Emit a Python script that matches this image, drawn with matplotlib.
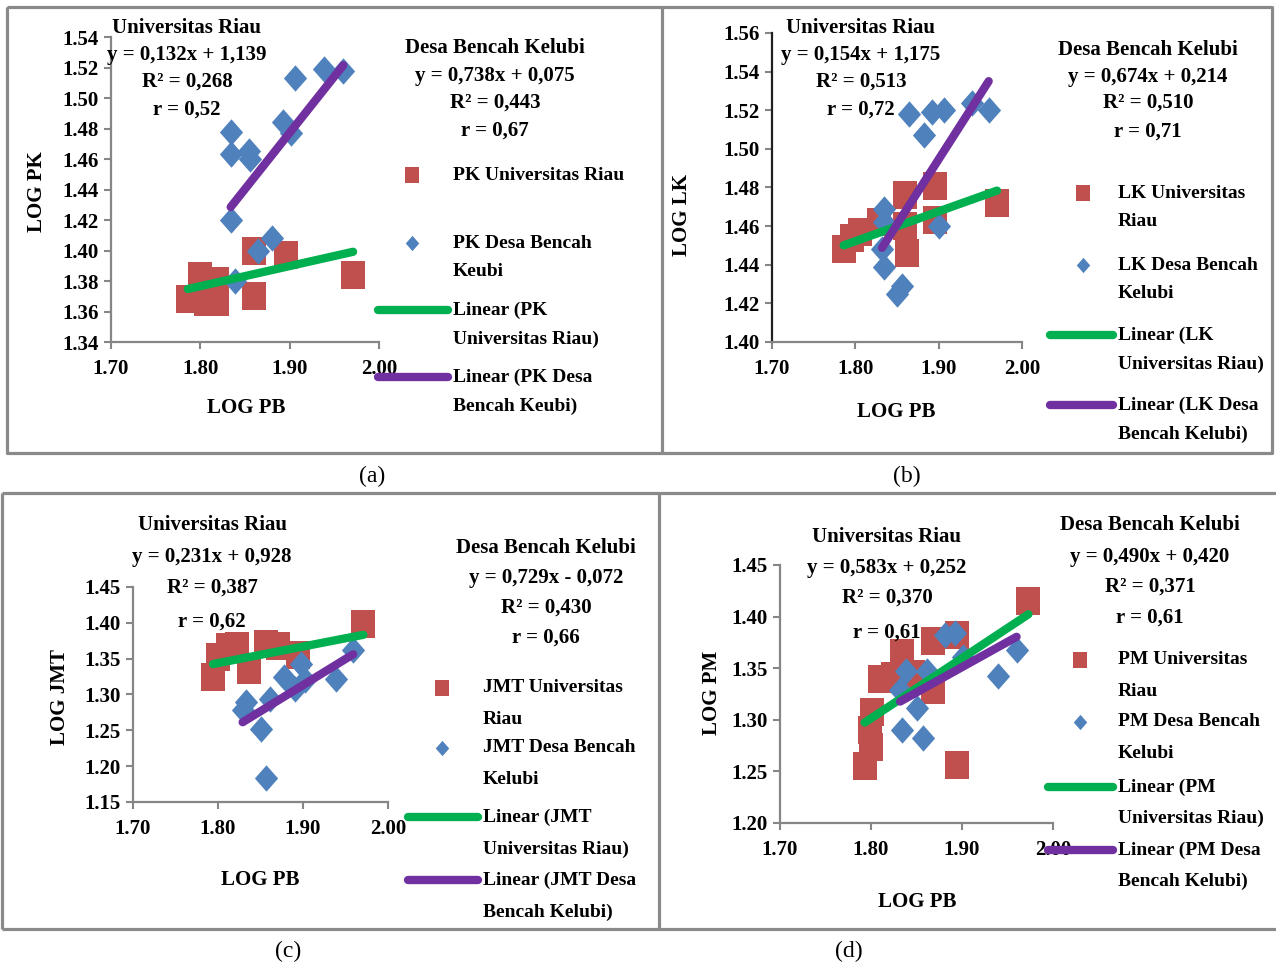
import numpy as np
import matplotlib
matplotlib.use("Agg")
import matplotlib.pyplot as plt
from matplotlib.ticker import FormatStrFormatter

plt.rcParams['font.family'] = ['Liberation Serif', 'DejaVu Serif']
plt.rcParams['font.weight'] = 'bold'

W, H = 1276, 968
RED = '#C0504D'
BLUE = '#4F81BD'
GREEN = '#00B050'
PURPLE = '#7030A0'
GRAY = '#868686'

# ---------------- DATA (log values) ----------------
# (a) LOG PK vs LOG PB
pk_ur_x = [1.800, 1.786, 1.806, 1.819, 1.819, 1.860, 1.860, 1.896, 1.971]
pk_ur_y = [1.383, 1.368, 1.366, 1.380, 1.366, 1.400, 1.370, 1.397, 1.384]
pk_bk_x = [1.834, 1.834, 1.854, 1.856, 1.834, 1.839, 1.864, 1.880, 1.893, 1.901, 1.906, 1.938, 1.960]
pk_bk_y = [1.478, 1.463, 1.465, 1.460, 1.420, 1.380, 1.400, 1.408, 1.484, 1.477, 1.513, 1.519, 1.518]

# (b) LOG LK vs LOG PB
lk_ur_x = [1.786, 1.796, 1.806, 1.828, 1.860, 1.860, 1.862, 1.896, 1.896, 1.970]
lk_ur_y = [1.448, 1.454, 1.457, 1.462, 1.476, 1.460, 1.446, 1.481, 1.463, 1.472]
lk_bk_x = [1.864, 1.882, 1.892, 1.906, 1.940, 1.960, 1.834, 1.834, 1.832, 1.834, 1.856, 1.850, 1.900]
lk_bk_y = [1.518, 1.507, 1.519, 1.520, 1.524, 1.520, 1.469, 1.462, 1.448, 1.439, 1.429, 1.425, 1.460]

# (c) LOG JMT vs LOG PB
jmt_ur_x = [1.794, 1.800, 1.812, 1.822, 1.836, 1.857, 1.871, 1.894, 1.971]
jmt_ur_y = [1.324, 1.352, 1.366, 1.368, 1.334, 1.371, 1.368, 1.355, 1.399]
jmt_bk_x = [1.833, 1.829, 1.851, 1.857, 1.861, 1.878, 1.890, 1.898, 1.902, 1.939, 1.959]
jmt_bk_y = [1.290, 1.278, 1.252, 1.183, 1.294, 1.324, 1.308, 1.343, 1.320, 1.322, 1.362]

# (d) LOG PM vs LOG PB
pm_ur_x = [1.793, 1.799, 1.800, 1.801, 1.810, 1.824, 1.834, 1.846, 1.868, 1.894, 1.868, 1.894, 1.973]
pm_ur_y = [1.255, 1.290, 1.274, 1.308, 1.340, 1.342, 1.365, 1.344, 1.376, 1.382, 1.329, 1.256, 1.415]
pm_bk_x = [1.834, 1.839, 1.832, 1.850, 1.857, 1.861, 1.881, 1.892, 1.901, 1.940, 1.960]
pm_bk_y = [1.290, 1.347, 1.329, 1.311, 1.282, 1.347, 1.382, 1.384, 1.361, 1.342, 1.368]

# regression coefficients (slope, intercept) shown on the chart
pk_fit = [(0.132, 1.139), (0.738, 0.075)]
lk_fit = [(0.154, 1.175), (0.674, 0.214)]
jmt_fit = [(0.231, 0.928), (0.729, -0.072)]
pm_fit = [(0.583, 0.252), (0.490, 0.420)]

pk_text = [['Universitas Riau', 'y = 0,132x + 1,139', 'R² = 0,268', 'r = 0,52'],
           ['Desa Bencah Kelubi', 'y = 0,738x + 0,075', 'R² = 0,443', 'r = 0,67']]
lk_text = [['Universitas Riau', 'y = 0,154x + 1,175', 'R² = 0,513', 'r = 0,72'],
           ['Desa Bencah Kelubi', 'y = 0,674x + 0,214', 'R² = 0,510', 'r = 0,71']]
jmt_text = [['Universitas Riau', 'y = 0,231x + 0,928', 'R² = 0,387', 'r = 0,62'],
            ['Desa Bencah Kelubi', 'y = 0,729x - 0,072', 'R² = 0,430', 'r = 0,66']]
pm_text = [['Universitas Riau', 'y = 0,583x + 0,252', 'R² = 0,370', 'r = 0,61'],
           ['Desa Bencah Kelubi', 'y = 0,490x + 0,420', 'R² = 0,371', 'r = 0,61']]

pk_legend = [['PK Universitas Riau'], ['PK Desa Bencah', 'Keubi'],
             ['Linear (PK', 'Universitas Riau)'], ['Linear (PK Desa', 'Bencah Keubi)']]
lk_legend = [['LK Universitas', 'Riau'], ['LK Desa Bencah', 'Kelubi'],
             ['Linear (LK', 'Universitas Riau)'], ['Linear (LK Desa', 'Bencah Kelubi)']]
jmt_legend = [['JMT Universitas', 'Riau'], ['JMT Desa Bencah', 'Kelubi'],
              ['Linear (JMT', 'Universitas Riau)'], ['Linear (JMT Desa', 'Bencah Kelubi)']]
pm_legend = [['PM Universitas', 'Riau'], ['PM Desa Bencah', 'Kelubi'],
             ['Linear (PM', 'Universitas Riau)'], ['Linear (PM Desa', 'Bencah Kelubi)']]

x_ticks = [1.70, 1.80, 1.90, 2.00]

# slightly tall markers, like the stretched original
SQ = [(-0.88, -1), (0.88, -1), (0.88, 1), (-0.88, 1), (-0.88, -1)]
DI = [(0, 1), (0.88, 0), (0, -1), (-0.88, 0), (0, 1)]

fig = plt.figure(figsize=(W / 100, H / 100), dpi=100)
fig.patch.set_facecolor('white')


def px_box(x0, x1, ytop, ybot):
    return [x0 / W, 1 - ybot / H, (x1 - x0) / W, (ybot - ytop) / H]


def panel(box, ylim, ystep, ur_x, ur_y, bk_x, bk_y, fits):
    ax = fig.add_axes(px_box(*box))
    ax.scatter(ur_x, ur_y, marker=SQ, s=20 ** 2, color=RED, linewidths=0, zorder=2)
    ax.scatter(bk_x, bk_y, marker=DI, s=19 ** 2, color=BLUE, linewidths=0, zorder=3)
    for (xs, (m, b), c) in [(ur_x, fits[0], GREEN), (bk_x, fits[1], PURPLE)]:
        xx = np.array([min(xs), max(xs)])
        ax.plot(xx, m * xx + b, color=c, lw=6, solid_capstyle='round', zorder=4)
    ax.set_xlim(1.70, 2.00)
    ax.set_ylim(*ylim)
    ax.set_xticks(x_ticks)
    ax.set_yticks(np.round(np.arange(ylim[0], ylim[1] + ystep / 2, ystep), 2))
    ax.xaxis.set_major_formatter(FormatStrFormatter('%.2f'))
    ax.yaxis.set_major_formatter(FormatStrFormatter('%.2f'))
    for s in ['top', 'right']:
        ax.spines[s].set_visible(False)
    for s in ['left', 'bottom']:
        ax.spines[s].set_color(GRAY)
        ax.spines[s].set_linewidth(1.6)
    ax.tick_params(direction='out', length=5, width=1.5, color=GRAY,
                   labelsize=15, pad=4)
    ax.tick_params(axis='x', pad=7)
    ax.patch.set_alpha(0)
    return ax


ax_a = panel((111, 379, 37, 342), (1.34, 1.54), 0.02, pk_ur_x, pk_ur_y, pk_bk_x, pk_bk_y, pk_fit)
ax_b = panel((772, 1022, 33, 342), (1.40, 1.56), 0.02, lk_ur_x, lk_ur_y, lk_bk_x, lk_bk_y, lk_fit)
ax_c = panel((133, 388, 587, 802), (1.15, 1.45), 0.05, jmt_ur_x, jmt_ur_y, jmt_bk_x, jmt_bk_y, jmt_fit)
ax_d = panel((780, 1053, 565, 823), (1.20, 1.45), 0.05, pm_ur_x, pm_ur_y, pm_bk_x, pm_bk_y, pm_fit)
ax_b.spines['left'].set_color('#202020')

# ---------------- OVERLAY (pixel coordinates) ----------------
bg = fig.add_axes([0, 0, 1, 1], zorder=10)
bg.set_xlim(0, W)
bg.set_ylim(H, 0)
bg.axis('off')
bg.patch.set_alpha(0)

# panel frames
frame = dict(color='#8a8a8a', lw=2.3, solid_capstyle='butt')
bg.plot([7, 1272, 1272, 7, 7], [7, 7, 453, 453, 7], **frame)
bg.plot([662, 662], [7, 453], **frame)
bg.plot([2, 1276], [493, 493], **frame)
bg.plot([2, 1276], [929, 929], **frame)
bg.plot([2, 2], [493, 929], **frame)
bg.plot([659, 659], [493, 929], **frame)

# axis titles
axis_labels = [
    ('LOG PB', 246, 408, 'LOG PK', 37, 192),
    ('LOG PB', 896, 412, 'LOG LK', 682, 215),
    ('LOG PB', 260, 880, 'LOG JMT', 60, 697),
    ('LOG PB', 917, 902, 'LOG PM', 712, 693),
]
for xl, xx, xy, yl, yx, yy in axis_labels:
    bg.text(xx, xy, xl, fontsize=15, ha='center', va='center')
    bg.text(yx, yy, yl, fontsize=15, ha='center', va='center', rotation=90)

# regression annotations
annots = [
    (pk_text, (187, [28, 55, 82, 110]), (495, [48, 76, 103, 131])),
    (lk_text, (861, [28, 55, 82, 110]), (1148, [50, 77, 103, 132])),
    (jmt_text, (212, [525, 557, 588, 622]), (546, [548, 578, 608, 638])),
    (pm_text, (887, [537, 568, 598, 633]), (1150, [525, 557, 587, 618])),
]
for texts, left, right in annots:
    for lines, (cx, ys) in zip(texts, [left, right]):
        for t, y in zip(lines, ys):
            bg.text(cx, y, t, fontsize=15, ha='center', va='center')

# legends
legends = [
    (pk_legend, 412, (378, 448), 453, [175, 243, 310, 377], 29),
    (lk_legend, 1083, (1050, 1113), 1118, [193, 265, 335, 405], 29),
    (jmt_legend, 442, (408, 478), 483, [688, 748, 817, 880], 32),
    (pm_legend, 1080, (1048, 1113), 1118, [660, 722, 787, 850], 31),
]
for labels, mx, (lx0, lx1), tx, ys, gap in legends:
    bg.plot([mx], [ys[0]], marker=SQ, ms=11, color=RED, mew=0, ls='none')
    bg.plot([mx], [ys[1]], marker=DI, ms=11, color=BLUE, mew=0, ls='none')
    bg.plot([lx0, lx1], [ys[2], ys[2]], color=GREEN, lw=6, solid_capstyle='round')
    bg.plot([lx0, lx1], [ys[3], ys[3]], color=PURPLE, lw=6, solid_capstyle='round')
    for lines, y in zip(labels, ys):
        for i, t in enumerate(lines):
            bg.text(tx, y + i * gap, t, fontsize=14, ha='left', va='center')

# panel captions
for t, x, y in [('(a)', 372, 476), ('(b)', 907, 476), ('(c)', 288, 951), ('(d)', 849, 951)]:
    bg.text(x, y, t, fontsize=17, fontweight='normal', ha='center', va='center')

fig.savefig('out.png', dpi=100, facecolor='white')
